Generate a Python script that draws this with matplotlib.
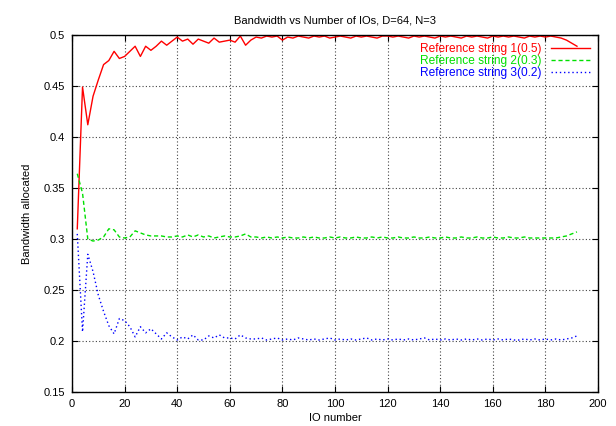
import matplotlib
matplotlib.use("Agg")
import matplotlib.pyplot as plt
import numpy as np

# IO number (every 2nd IO)
io = np.arange(2, 194, 2)

ref1 = [0.310, 0.449, 0.412, 0.440, 0.456, 0.471, 0.475, 0.484, 0.477, 0.479,
        0.484, 0.489, 0.479, 0.489, 0.485, 0.489, 0.494, 0.490, 0.494, 0.498,
        0.494, 0.496, 0.491, 0.496, 0.494, 0.492, 0.497, 0.493, 0.494, 0.495,
        0.493, 0.499, 0.490, 0.495, 0.498, 0.497, 0.499, 0.498, 0.499, 0.495,
        0.498, 0.497, 0.499, 0.498, 0.497, 0.499, 0.498, 0.499, 0.497, 0.498,
        0.499, 0.498, 0.497, 0.499, 0.498, 0.499, 0.498, 0.497, 0.499, 0.499,
        0.498, 0.499, 0.498, 0.497, 0.499, 0.498, 0.499, 0.498, 0.497, 0.499,
        0.498, 0.499, 0.498, 0.497, 0.499, 0.498, 0.499, 0.498, 0.497, 0.499,
        0.498, 0.499, 0.498, 0.499, 0.498, 0.497, 0.499, 0.498, 0.499, 0.498,
        0.499, 0.498, 0.497, 0.495, 0.492, 0.489]

ref2 = [0.364, 0.345, 0.300, 0.298, 0.299, 0.302, 0.310, 0.309, 0.302, 0.301,
        0.302, 0.308, 0.306, 0.304, 0.303, 0.303, 0.303, 0.302, 0.302, 0.303,
        0.302, 0.304, 0.302, 0.304, 0.302, 0.303, 0.301, 0.302, 0.303, 0.302,
        0.302, 0.303, 0.305, 0.302, 0.302, 0.301, 0.302, 0.301, 0.302, 0.301,
        0.302, 0.301, 0.301, 0.302, 0.301, 0.302, 0.301, 0.301, 0.302, 0.301,
        0.302, 0.301, 0.301, 0.302, 0.301, 0.301, 0.302, 0.301, 0.302, 0.301,
        0.301, 0.302, 0.301, 0.301, 0.302, 0.301, 0.301, 0.302, 0.301, 0.301,
        0.302, 0.301, 0.301, 0.302, 0.301, 0.301, 0.302, 0.301, 0.301, 0.302,
        0.301, 0.301, 0.302, 0.301, 0.301, 0.302, 0.301, 0.301, 0.301, 0.301,
        0.301, 0.301, 0.302, 0.303, 0.305, 0.307]

ref3 = [0.305, 0.209, 0.285, 0.268, 0.245, 0.229, 0.215, 0.207, 0.222, 0.220,
        0.214, 0.204, 0.214, 0.208, 0.212, 0.207, 0.202, 0.208, 0.204, 0.201,
        0.204, 0.202, 0.206, 0.201, 0.201, 0.205, 0.203, 0.206, 0.203, 0.203,
        0.202, 0.206, 0.203, 0.202, 0.202, 0.203, 0.201, 0.202, 0.203, 0.201,
        0.202, 0.201, 0.203, 0.202, 0.201, 0.202, 0.201, 0.202, 0.203, 0.201,
        0.202, 0.201, 0.202, 0.201, 0.202, 0.203, 0.201, 0.202, 0.201, 0.202,
        0.201, 0.202, 0.201, 0.202, 0.201, 0.202, 0.203, 0.201, 0.202, 0.201,
        0.202, 0.201, 0.202, 0.201, 0.202, 0.201, 0.202, 0.201, 0.202, 0.201,
        0.202, 0.201, 0.202, 0.201, 0.201, 0.202, 0.201, 0.202, 0.201, 0.202,
        0.201, 0.202, 0.201, 0.202, 0.203, 0.205]

labels = ['Reference string 1(0.5)', 'Reference string 2(0.3)', 'Reference string 3(0.2)']
colors = ['#ff0000', '#00e000', '#0000ff']
styles = ['-', (0, (3, 2)), (0, (1, 2))]

xticks = [0, 20, 40, 60, 80, 100, 120, 140, 160, 180, 200]
yticks = [0.15, 0.2, 0.25, 0.3, 0.35, 0.4, 0.45, 0.5]
ytick_labels = ['0.15', '0.2', '0.25', '0.3', '0.35', '0.4', '0.45', '0.5']

plt.rcParams['font.family'] = ['Liberation Sans', 'DejaVu Sans']
plt.rcParams['font.size'] = 8

fig = plt.figure(figsize=(6.16, 4.26), dpi=100)
ax = fig.add_axes([0.1169, 0.0798, 0.8539, 0.838])

for y, lab, c, ls in zip([ref1, ref2, ref3], labels, colors, styles):
    ax.plot(io, y, color=c, linestyle=ls, linewidth=1.0, label=lab)

ax.set_xlim(0, 200)
ax.set_ylim(0.15, 0.5)
ax.set_xticks(xticks)
ax.set_yticks(yticks)
ax.set_yticklabels(ytick_labels)
ax.tick_params(direction='in', top=True, right=True, length=4, width=0.8, pad=5)
ax.grid(True, color='#444444', linestyle=(0, (1, 2)), linewidth=0.8)
for s in ax.spines.values():
    s.set_linewidth(1.0)

ax.set_title('Bandwidth vs Number of IOs, D=64, N=3', fontsize=8, pad=8)
ax.set_xlabel('IO number', labelpad=3)
ax.set_ylabel('Bandwidth allocated', labelpad=8)

leg = ax.legend(loc='upper right', frameon=False, markerfirst=False,
                labelcolor='linecolor', fontsize=8.6, handlelength=3.2,
                handletextpad=0.8, labelspacing=0.0, borderaxespad=0.3)

fig.savefig('out.png', dpi=100)
